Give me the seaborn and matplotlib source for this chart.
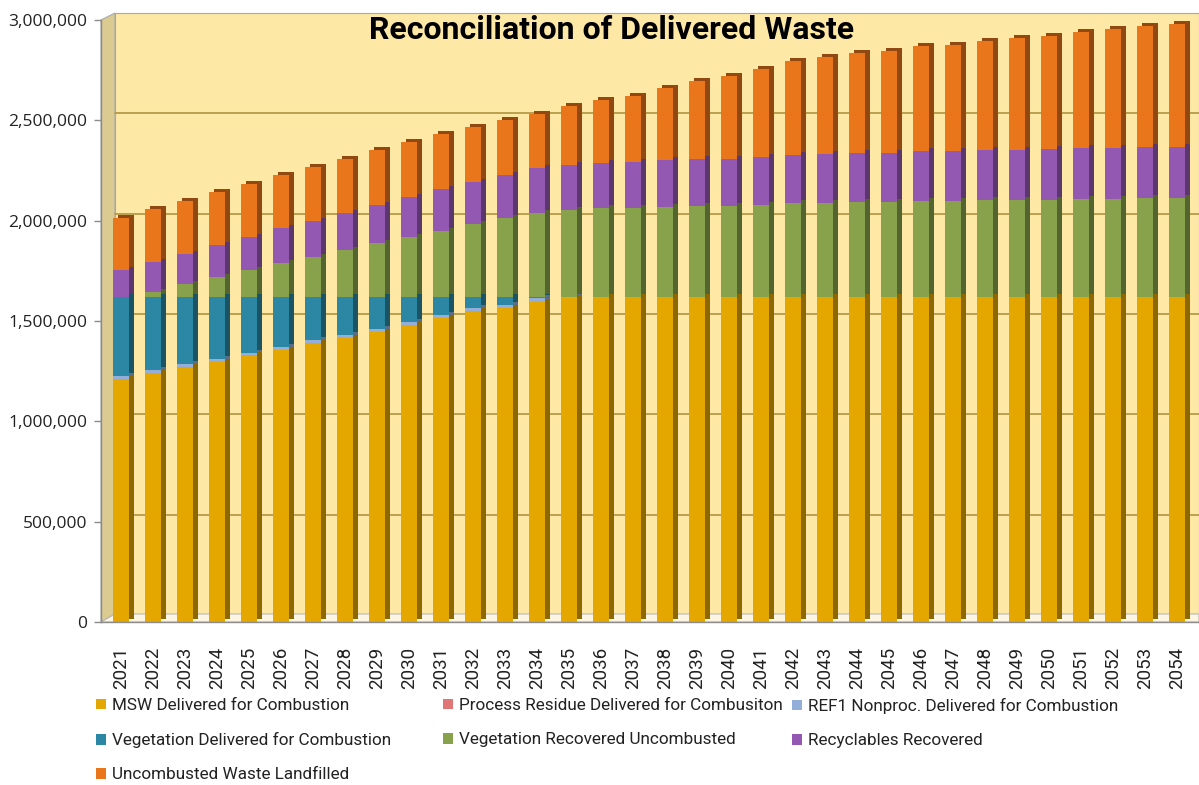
import numpy as np
import matplotlib
matplotlib.use("Agg")
import matplotlib.pyplot as plt
import matplotlib.transforms as mtransforms
from matplotlib import font_manager
from matplotlib.patches import Polygon, Rectangle, Patch
import seaborn as sns

# ---- data (tons per year) ----
years = [str(y) for y in range(2021, 2055)]

msw = [1211000, 1241000, 1271000, 1296000, 1330000, 1355000, 1390000, 1415000,
       1445000, 1480000, 1515000, 1550000, 1565000, 1595000, 1615000, 1622000,
       1622000, 1622000, 1622000, 1622000, 1622000, 1622000, 1622000, 1622000,
       1622000, 1622000, 1622000, 1622000, 1622000, 1622000, 1622000, 1622000,
       1622000, 1622000]
process_residue = [0] * 34
ref1 = [13000] * 13 + [18000, 5000] + [0] * 19
veg_delivered = [396000, 366000, 336000, 311000, 277000, 252000, 217000, 192000,
                 162000, 127000, 92000, 57000, 42000, 5000] + [0] * 20
veg_recovered = [0, 24000, 64000, 99000, 134000, 169000, 199000, 234000,
                 269000, 298000, 328000, 363000, 393000, 420000, 433000, 441000,
                 441000, 446000, 451000, 451000, 456000, 466000, 466000, 471000,
                 471000, 476000, 476000, 481000, 481000, 481000, 486000, 486000,
                 491000, 491000]
recyclables = [134000, 150000, 150000, 160000, 164000, 174000, 179000, 184000,
               189000, 200000, 208000, 212000, 216000, 222000, 224000, 226000,
               230000, 232000, 234000, 236000, 238000, 240000, 242000, 244000,
               246000, 247000, 248000, 249000, 250000, 252000, 253000, 254000,
               255000, 256000]
landfilled = [260000, 262000, 264000, 266000, 266000, 265000, 268000, 270000,
              272000, 272000, 274000, 272000, 273000, 274000, 294000, 314000,
              329000, 359000, 389000, 414000, 438000, 468000, 488000, 498000,
              508000, 523000, 528000, 543000, 558000, 563000, 578000, 593000,
              603000, 613000]

series_names = ["MSW Delivered for Combustion",
                "Process Residue Delivered for Combusiton",
                "REF1 Nonproc. Delivered for Combustion",
                "Vegetation Delivered for Combustion",
                "Vegetation Recovered Uncombusted",
                "Recyclables Recovered",
                "Uncombusted Waste Landfilled"]
series_values = [msw, process_residue, ref1, veg_delivered, veg_recovered,
                 recyclables, landfilled]
series_colors = ["#E3A700", "#E07676", "#93AED8", "#2B87A3", "#87A24A",
                 "#9359B2", "#EA761C"]

y_ticks = [0, 500000, 1000000, 1500000, 2000000, 2500000, 3000000]

# ---- fonts ----
sns.set_style("white")
installed = {f.name for f in font_manager.fontManager.ttflist}
narrow = "Liberation Sans Narrow" if "Liberation Sans Narrow" in installed else "Roboto"
plt.rcParams["font.family"] = [narrow, "DejaVu Sans"]

W, H = 1199, 785
fig = plt.figure(figsize=(W / 100, H / 100), dpi=100)
ax = fig.add_axes([101 / W, 1 - 622 / H, 1098 / W, 602 / H])
ax.set_facecolor("none")


def px(x, y):
    # pixel coords measured from the top-left corner -> inches for dpi_scale_trans
    return (x / 100, (H - y) / 100)


# 3D-ish walls
wall = Rectangle(px(115, 614), 1084 / 100, 601 / 100, transform=fig.dpi_scale_trans,
                 facecolor="#FDE8A6", edgecolor="#A8A8A8", lw=0.8, zorder=0, clip_on=False)
ax.add_patch(wall)
left_wall = Polygon([px(101, 622), px(101, 20), px(115, 13), px(115, 614)], closed=True,
                    transform=fig.dpi_scale_trans, facecolor="#DCCB90",
                    edgecolor="#A8A8A8", lw=0.8, zorder=0.5, clip_on=False)
ax.add_patch(left_wall)
floor = Polygon([px(101, 622), px(115, 614), px(1199, 614), px(1199, 622)], closed=True,
                transform=fig.dpi_scale_trans, facecolor="#FBF5E2",
                edgecolor="#B8B8B8", lw=0.8, zorder=0.5, clip_on=False)
ax.add_patch(floor)

# back-wall gridlines (shifted up like in the 3D chart)
grid_shift = mtransforms.ScaledTranslation(0, 7 / 100, fig.dpi_scale_trans)
for v in y_ticks[1:]:
    gl = ax.axhline(v, xmin=14 / 1098, xmax=1, color="#B59A48", lw=1.3, zorder=0.8)
    gl.set_transform(ax.get_yaxis_transform() + grid_shift)

# stacked bars: draw cumulative totals from the top series down
cum = np.cumsum(np.array(series_values, dtype=float), axis=0)
side_shift = mtransforms.ScaledTranslation(4.5 / 100, 3 / 100, fig.dpi_scale_trans)

for i in range(len(series_values) - 1, -1, -1):
    dark = tuple(c * 0.62 for c in matplotlib.colors.to_rgb(series_colors[i]))
    n0 = len(ax.patches)
    sns.barplot(x=years, y=cum[i], color=dark, saturation=1, width=0.5,
                errorbar=None, linewidth=0, ax=ax, zorder=2)
    for p in ax.patches[n0:]:
        p.set_transform(ax.transData + side_shift)

for i in range(len(series_values) - 1, -1, -1):
    sns.barplot(x=years, y=cum[i], color=series_colors[i], saturation=1, width=0.5,
                errorbar=None, linewidth=0, ax=ax, zorder=3)

# axes
ax.set_xlim(-0.625, -0.625 + 1098 / 32)
ax.set_ylim(0, 3000000)
ax.set_yticks(y_ticks)
ax.set_yticklabels([f"{v:,.0f}" for v in y_ticks], family=["Open Sans", "DejaVu Sans"],
                   fontsize=12.5, color="#222222")
ax.set_xticks(range(len(years)))
ax.set_xticklabels(years, rotation=90, fontsize=13.5, color="#222222")
ax.set_xticks(np.arange(len(years) + 1) - 0.5, minor=True)
ax.tick_params(axis="x", which="major", length=0, pad=18)
ax.tick_params(axis="x", which="minor", length=5, color="#8C8C8C", width=1)
ax.tick_params(axis="y", which="major", length=5, color="#8C8C8C", width=1, pad=5, left=True)
ax.set_xlabel("")
ax.set_ylabel("")
for side in ["top", "right"]:
    ax.spines[side].set_visible(False)
for side in ["left", "bottom"]:
    ax.spines[side].set_color("#8C8C8C")
    ax.spines[side].set_linewidth(1)
    ax.spines[side].set_zorder(4)

fig.text(612 / W, 1 - 30 / H, "Reconciliation of Delivered Waste", ha="center", va="center",
         fontsize=23, fontweight="bold", color="black")

# legend laid out in three fixed columns, filled row by row
handles = [Patch(facecolor=c, edgecolor="none") for c in series_colors]
col_x = [96, 443, 792]
for col in range(3):
    idx = list(range(col, len(series_names), 3))
    leg = fig.legend([handles[k] for k in idx], [series_names[k] for k in idx],
                     loc="upper left", bbox_to_anchor=(col_x[col] / W, 1 - 698 / H),
                     frameon=False, fontsize=12.3, handlelength=0.6, handleheight=0.6,
                     handletextpad=0.35, labelspacing=1.12, borderpad=0, borderaxespad=0)
    for t in leg.get_texts():
        t.set_color("#222222")

fig.savefig("out.png", dpi=100, facecolor="white")
